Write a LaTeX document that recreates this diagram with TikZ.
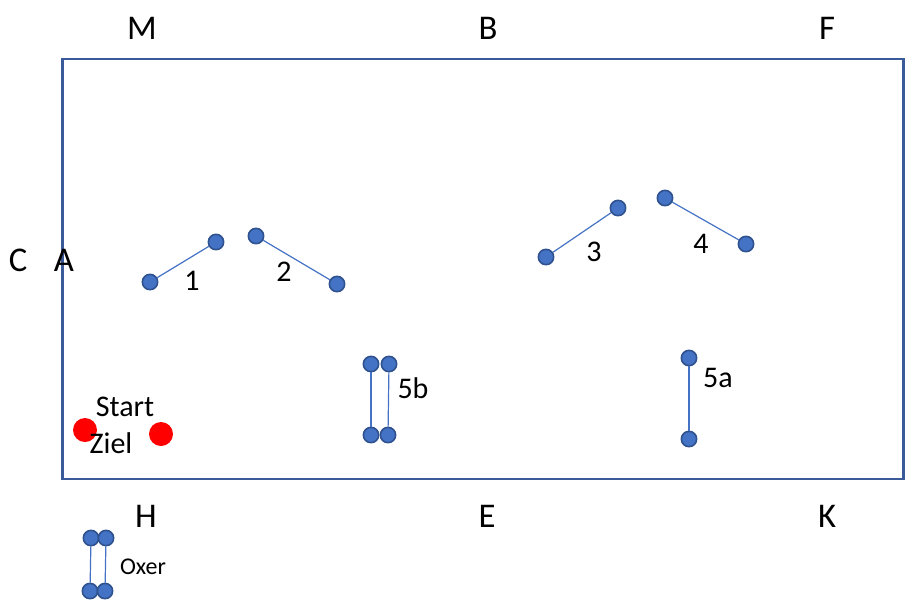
\documentclass[tikz,border=0pt]{standalone}
\usepackage{fontspec}
\setmainfont{Carlito}
\definecolor{dotfill}{HTML}{4472C4}
\definecolor{dotedge}{HTML}{2F528F}
\definecolor{arena}{HTML}{3A5A9A}
\begin{document}
\begin{tikzpicture}[x=0.75pt,y=-0.75pt,
  pole/.style={circle,fill=dotfill,draw=dotedge,line width=1.2pt,minimum size=11.5pt,inner sep=0pt},
  startdot/.style={circle,fill=red,minimum size=18pt,inner sep=0pt},
  rail/.style={draw=dotfill,line width=0.9pt},
  letter/.style={font=\fontsize{26}{28}\selectfont},
  num/.style={font=\fontsize{22.5}{25}\selectfont},
  small/.style={font=\fontsize{18}{20}\selectfont}]
\useasboundingbox (0,0) rectangle (906,608);
\node[draw=arena,line width=1.9pt,minimum width=841*0.75pt,minimum height=420*0.75pt,inner sep=0pt] (arena) at (483,269) {};
% letters
\node[letter] (M) at (142,28) {M};
\node[letter] (B) at (488,28) {B};
\node[letter] (F) at (827,28) {F};
\node[letter] (C) at (18,260) {C};
\node[letter] (A) at (64,260) {A};
\node[letter] (H) at (146,516) {H};
\node[letter] (E) at (487,516) {E};
\node[letter] (K) at (827,516) {K};
% jump 1
\node[pole] (j1a) at (150,282) {};
\node[pole] (j1b) at (216,242) {};
\draw[rail] (j1a) -- (j1b);
\node[num] (l1) at (192,281) {1};
% jump 2
\node[pole] (j2a) at (256,236) {};
\node[pole] (j2b) at (337,284) {};
\draw[rail] (j2a) -- (j2b);
\node[num] (l2) at (284,272) {2};
% jump 3
\node[pole] (j3a) at (546,257) {};
\node[pole] (j3b) at (618,208) {};
\draw[rail] (j3a) -- (j3b);
\node[num] (l3) at (594,252) {3};
% jump 4
\node[pole] (j4a) at (665,198) {};
\node[pole] (j4b) at (746,244) {};
\draw[rail] (j4a) -- (j4b);
\node[num] (l4) at (701,244) {4};
% 5b
\node[pole] (b1) at (371,364) {};
\node[pole] (b2) at (389,364) {};
\node[pole] (b3) at (371,435) {};
\node[pole] (b4) at (388,435) {};
\draw[rail] (b1) -- (b3);
\draw[rail] (b2) -- (b4);
\node[num] (l5b) at (413,388) {5b};
% 5a
\node[pole] (a1) at (689,358) {};
\node[pole] (a2) at (689,439) {};
\draw[rail] (a1) -- (a2);
\node[num] (l5a) at (718,378) {5a};
% oxer legend
\node[pole] (o1) at (91,538) {};
\node[pole] (o2) at (106,538) {};
\node[pole] (o3) at (90,591) {};
\node[pole] (o4) at (105,591) {};
\draw[rail] (o1) -- (o3);
\draw[rail] (o2) -- (o4);
\node[small] (lox) at (143,567) {Oxer};
% start / finish
\node[startdot] (s1) at (85,430) {};
\node[startdot] (s2) at (161,434) {};
\node[num] (ls) at (125,407) {Start};
\node[num] (lz) at (111,443) {Ziel};
\end{tikzpicture}
\end{document}
